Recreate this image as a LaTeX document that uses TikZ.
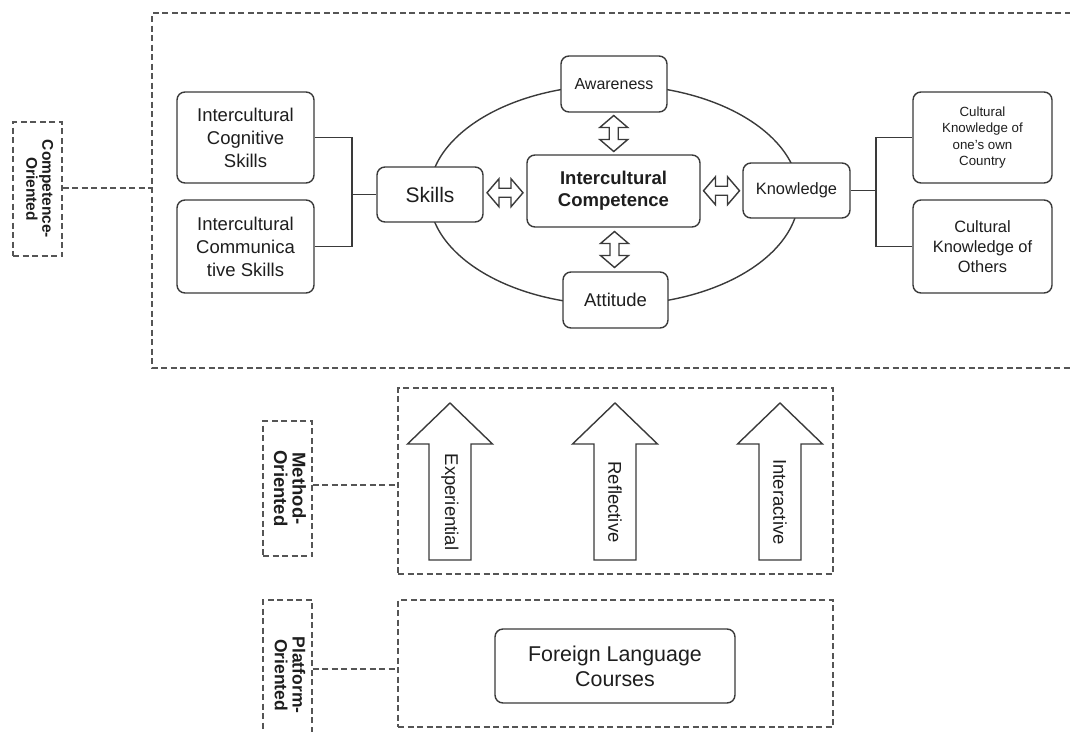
\documentclass[tikz,border=0pt]{standalone}
\usepackage{fontspec}
\setmainfont{Liberation Sans}
\usetikzlibrary{calc}

\definecolor{boxline}{HTML}{3A3A3A}
\definecolor{dashline}{HTML}{555555}
\definecolor{ink}{HTML}{1E1E1E}

\newcommand{\fs}[2]{\fontsize{#1}{#2}\selectfont}

\tikzset{
  box/.style={draw=boxline, line width=1.4pt, rounded corners=8pt, fill=white,
    text=ink, align=center, inner sep=2pt},
  tag/.style={draw=dashline, line width=1.3pt, dash pattern=on 6pt off 3.5pt,
    text=ink, inner sep=0pt},
  dashframe/.style={draw=dashline, line width=1.3pt, dash pattern=on 6pt off 3.5pt},
  link/.style={draw=boxline, line width=1.4pt},
  arrowline/.style={draw=boxline, line width=1.4pt, fill=white, line join=miter},
  dblarrow/.pic={
    \path[arrowline] (-18,0) -- (-6,14) -- (-6,4.5) -- (6,4.5) -- (6,14) -- (18,0)
      -- (6,-14) -- (6,-4.5) -- (-6,-4.5) -- (-6,-14) -- cycle;
  }
}

\begin{document}
\begin{tikzpicture}[x=1pt, y=-1pt]
\useasboundingbox (0,0) rectangle (1070,731);
\clip (0,0) rectangle (1070,731);

% ---------- competence-oriented level ----------
\node[tag, minimum width=49pt, minimum height=134pt] (comptag) at (37.5,189)
  {\rotatebox{-90}{\bfseries\fs{15.5}{15.5}\begin{tabular}{@{}c@{}}Competence-\\Oriented\end{tabular}}};
\path[dashframe] (1080,13) -- (152,13) -- (152,368) -- (1080,368);
\coordinate (compframe) at (152,188);
\draw[dashframe] (comptag.east |- compframe) -- (compframe);

\draw[boxline, line width=1.4pt] (614,195) ellipse [x radius=185pt, y radius=110pt];

\node[box, minimum width=137pt, minimum height=91pt, font=\fs{18.5}{23}] (ics) at (245.5,137.5)
  {Intercultural\\Cognitive\\Skills};
\node[box, minimum width=137pt, minimum height=93pt, font=\fs{18.5}{23}] (icc) at (245.5,246.5)
  {Intercultural\\Communica\\tive Skills};

\node[box, minimum width=106pt, minimum height=55pt, font=\fs{21}{24}] (skills) at (430,194.5)
  {Skills};
\node[box, minimum width=173pt, minimum height=72pt, font=\bfseries\fs{18.5}{22}] (ic) at (613.5,191)
  {Intercultural\\Competence};
\node[box, minimum width=106pt, minimum height=56pt, font=\fs{16}{19}] (aware) at (614,84)
  {Awareness};
\node[box, minimum width=105pt, minimum height=56pt, font=\fs{18.5}{22}] (att) at (615.5,300)
  {Attitude};
\node[box, minimum width=107pt, minimum height=55pt, font=\fs{16.4}{19}] (know) at (796.5,190.5)
  {Knowledge};

\node[box, minimum width=139pt, minimum height=91pt, font=\fs{13.3}{16.5}] (ckown) at (982.5,137.5)
  {Cultural\\Knowledge of\\one's own\\Country};
\node[box, minimum width=139pt, minimum height=93pt, font=\fs{16.4}{20}] (ckoth) at (982.5,246.5)
  {Cultural\\Knowledge of\\Others};

% brackets joining sub-skills and sub-knowledge
\coordinate (sb) at (352,194.5);
\draw[link] (ics.east) -| (sb);
\draw[link] (icc.east) -| (sb);
\draw[link] (sb) -- (skills.west);
\coordinate (kb) at (876,190.5);
\draw[link] (know.east) -- (kb);
\draw[link] (kb) |- (ckown.west);
\draw[link] (kb) |- (ckoth.west);

% two-way links around the core competence
\pic at ($(skills.east)!0.5!(ic.west)$) {dblarrow};
\pic at ($(ic.east)!0.5!(know.west)$) {dblarrow};
\pic[rotate=90] at ($(aware.south)!0.5!(ic.north)$) {dblarrow};
\pic[rotate=90] at ($(ic.south)!0.5!(att.north)$) {dblarrow};

% ---------- method-oriented level ----------
\node[tag, minimum width=49pt, minimum height=135pt] (methtag) at (287.5,488.5)
  {\rotatebox{-90}{\bfseries\fs{18.5}{17}\begin{tabular}{@{}c@{}}Method-\\Oriented\end{tabular}}};
\node[dashframe, minimum width=435pt, minimum height=186pt] (methframe) at (615.5,481) {};
\coordinate (mj) at (methframe.west |- 0,485);
\draw[dashframe] (methtag.east |- mj) -- (mj);

\foreach \nm/\cx/\lab in {exp/450/Experiential, refl/615/Reflective, inter/780/Interactive}{
  \path[arrowline] (\cx,403) -- (\cx+42.5,444) -- (\cx+21,444) -- (\cx+21,560)
    -- (\cx-21,560) -- (\cx-21,444) -- (\cx-42.5,444) -- cycle;
  \node[rotate=-90, text=ink, inner sep=0pt, font=\fs{18.5}{22}] (\nm) at (\cx,502) {\lab};
}

% ---------- platform-oriented level (its tag runs past the lower edge) ----------
\node[tag, minimum width=49pt, minimum height=150pt] (plattag) at (287.5,675)
  {\rotatebox{-90}{\bfseries\fs{17.5}{17}\begin{tabular}{@{}c@{}}Platform-\\Oriented\end{tabular}}};
\node[dashframe, minimum width=435pt, minimum height=127pt] (platframe) at (615.5,663.5) {};
\coordinate (pj) at (platframe.west |- 0,669);
\draw[dashframe] (plattag.east |- pj) -- (pj);

\node[box, minimum width=240pt, minimum height=74pt, font=\fs{21.4}{25}] (flc) at (615,666)
  {Foreign Language\\Courses};
\end{tikzpicture}
\end{document}
